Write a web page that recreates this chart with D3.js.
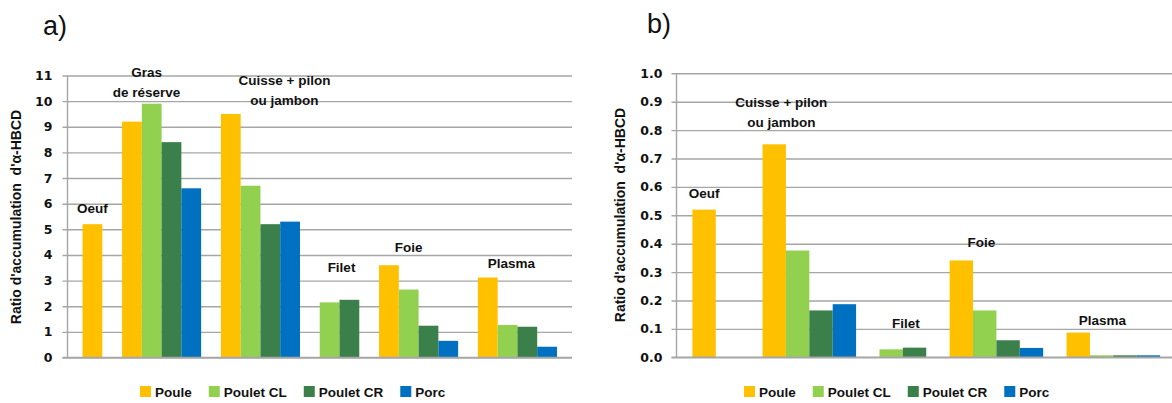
<!DOCTYPE html>
<html>
<head>
<meta charset="utf-8">
<script src="https://cdn.jsdelivr.net/npm/d3@7"></script>
<style>
  html, body { margin: 0; padding: 0; background: #fff; }
  svg { display: block; }
  text { font-family: "Liberation Sans", Arial, sans-serif; fill: #111; }
</style>
</head>
<body>
<svg id="chart" width="1172" height="403"></svg>
<script>
// ---------- DATA ----------
const seriesNames = ["Poule", "Poulet CL", "Poulet CR", "Porc"];
const seriesColors = ["#FFC000", "#92D050", "#3B7F4A", "#0070C0"];
const yTitle = "Ratio d'accumulation  d'\u03B1-HBCD";

// Chart a)
const categoriesA = [["Oeuf"], ["Gras", "de réserve"], ["Cuisse + pilon", "ou jambon"], ["Filet"], ["Foie"], ["Plasma"]];
const pouleA    = [5.2, 9.2, 9.5, null, 3.6, 3.12];
const pouletCLA = [null, 9.9, 6.7, 2.15, 2.65, 1.27];
const pouletCRA = [null, 8.4, 5.2, 2.25, 1.24, 1.2];
const porcA     = [null, 6.6, 5.3, null, 0.65, 0.42];
const ticksA = [0, 1, 2, 3, 4, 5, 6, 7, 8, 9, 10, 11];

// Chart b)
const categoriesB = [["Oeuf"], ["Cuisse + pilon", "ou jambon"], ["Filet"], ["Foie"], ["Plasma"]];
const pouleB    = [0.52, 0.75, null, 0.341, 0.087];
const pouletCLB = [null, 0.376, 0.028, 0.165, 0.007];
const pouletCRB = [null, 0.165, 0.034, 0.06, 0.007];
const porcB     = [null, 0.187, null, 0.033, 0.007];
const ticksB = [0, 0.1, 0.2, 0.3, 0.4, 0.5, 0.6, 0.7, 0.8, 0.9, 1.0];

// ---------- LAYOUT ----------
const svg = d3.select("#chart");
svg.append("rect").attr("width", 1172).attr("height", 403).attr("fill", "#fff");

function drawChart(cfg) {
  const g = svg.append("g");
  const values = [cfg.s0, cfg.s1, cfg.s2, cfg.s3];

  // build slot list: bars that exist, with gap slots between groups
  const slots = [];
  const bars = [];
  cfg.categories.forEach((cat, gi) => {
    if (gi > 0) {
      for (let k = 0; k < cfg.gaps[gi - 1]; k++) slots.push("gap" + gi + "_" + k);
    }
    values.forEach((arr, si) => {
      const v = arr[gi];
      if (v !== null && v !== undefined) {
        const key = gi + "_" + si;
        slots.push(key);
        bars.push({ key, gi, si, v });
      }
    });
  });

  const x = d3.scaleBand().domain(slots).range([cfg.x0, cfg.x1])
    .paddingInner(0).paddingOuter(cfg.outer);
  const y = d3.scaleLinear().domain([0, cfg.max]).range([cfg.yBottom, cfg.yTop]);

  // gridlines + tick labels via axis
  const axis = d3.axisLeft(y).tickValues(cfg.ticks)
    .tickSize(-(cfg.gridEnd - cfg.x0)).tickSizeOuter(0).tickPadding(0)
    .tickFormat(cfg.fmt);
  const ag = g.append("g").attr("transform", `translate(${cfg.x0},0)`).call(axis);
  ag.select(".domain").remove();
  ag.selectAll(".tick line").attr("stroke", "#a6a6a6").attr("stroke-width", 1.4)
    .attr("x1", -5);
  ag.selectAll(".tick text")
    .attr("x", -cfg.labelGap)
    .style("font-family", "'DejaVu Sans', sans-serif")
    .style("font-weight", "bold").style("font-size", "12.5px").attr("fill", "#111");

  // vertical axis line
  g.append("line").attr("x1", cfg.x0).attr("x2", cfg.x0)
    .attr("y1", y(cfg.max)).attr("y2", y(0))
    .attr("stroke", "#a6a6a6").attr("stroke-width", 1.4);

  // bars
  g.selectAll("rect.bar").data(bars).enter().append("rect")
    .attr("class", "bar")
    .attr("x", d => x(d.key))
    .attr("width", x.bandwidth())
    .attr("y", d => y(d.v))
    .attr("height", d => y(0) - y(d.v))
    .attr("fill", d => seriesColors[d.si]);

  // re-draw baseline over bars
  g.append("line").attr("x1", cfg.x0 - 5).attr("x2", cfg.gridEnd)
    .attr("y1", y(0)).attr("y2", y(0))
    .attr("stroke", "#a6a6a6").attr("stroke-width", 1.6);

  // category labels
  cfg.categories.forEach((lines, gi) => {
    const gb = bars.filter(b => b.gi === gi);
    const cx = (x(gb[0].key) + x(gb[gb.length - 1].key) + x.bandwidth()) / 2 + cfg.labelDx[gi];
    const t = g.append("text").attr("text-anchor", "middle")
      .style("font-weight", "bold").style("font-size", "13.5px");
    lines.forEach((ln, li) => {
      t.append("tspan").attr("x", cx).attr("y", cfg.labelY[gi] + li * 20).text(ln);
    });
  });

  // y title
  g.append("text")
    .attr("transform", `translate(${cfg.titleX},${cfg.titleY}) rotate(-90)`)
    .attr("text-anchor", "middle")
    .style("white-space", "pre")
    .style("font-weight", "bold").style("font-size", "14px")
    .text(yTitle);

  // panel letter
  g.append("text").attr("x", cfg.letterX).attr("y", cfg.letterY)
    .style("font-size", "27px").text(cfg.letter);

  // legend
  let lx = cfg.legendX;
  seriesNames.forEach((name, i) => {
    g.append("rect").attr("x", lx).attr("y", 386).attr("width", 11).attr("height", 11)
      .attr("fill", seriesColors[i]);
    const t = g.append("text").attr("x", lx + 15).attr("y", 397)
      .style("font-weight", "bold").style("font-size", "13.5px").text(name);
    lx += 15 + t.node().getComputedTextLength() + 17;
  });
}

drawChart({
  categories: categoriesA, s0: pouleA, s1: pouletCLA, s2: pouletCRA, s3: porcA,
  gaps: [1, 1, 1, 1, 1], x0: 67.5, x1: 572, outer: 0.76, gridEnd: 572,
  max: 11, ticks: ticksA, fmt: d3.format("d"), yTop: 75.5, yBottom: 357.5, labelGap: 15,
  labelDx: [0, -15, 24, 2, -10, -6], labelY: [213, 77, 85, 272, 252, 268],
  titleX: 21, titleY: 217, letter: "a)", letterX: 43, letterY: 35, legendX: 140
});

drawChart({
  categories: categoriesB, s0: pouleB, s1: pouletCLB, s2: pouletCRB, s3: porcB,
  gaps: [2, 1, 1, 1], x0: 676.5, x1: 1176, outer: 0.68, gridEnd: 1176,
  max: 1.0, ticks: ticksB, fmt: d3.format(".1f"), yTop: 73.3, yBottom: 357.3, labelGap: 14,
  labelDx: [0, -28, 3, -15, -11], labelY: [198, 107, 328, 247, 325],
  titleX: 625, titleY: 215, letter: "b)", letterX: 647, letterY: 33, legendX: 744
});
</script>
</body>
</html>
